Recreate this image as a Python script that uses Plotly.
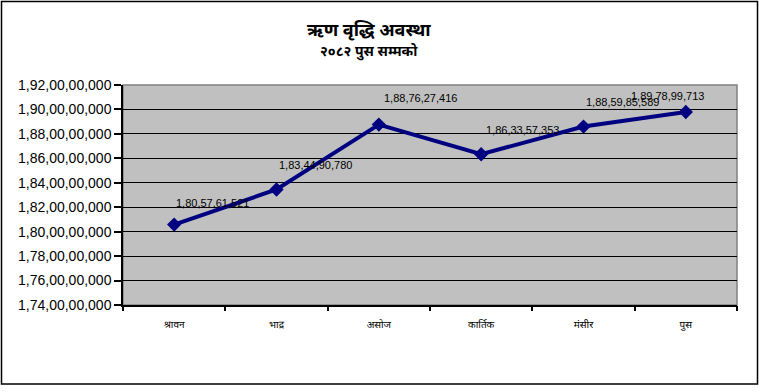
import plotly.graph_objects as go

months = ["श्रावन", "भाद्र", "असोज", "कार्तिक", "मंसीर", "पुस"]
loan_values = [1805761521, 1834490780, 1887627416, 1863357353, 1885985589, 1897899713]
tick_values = [1740000000 + i * 20000000 for i in range(10)]

title_text = "ऋण वृद्धि अवस्था"
subtitle_text = "२०८२ पुस सम्मको"

# label offsets (style only)
label_dx = [0, 0, 3, 3, 0, -57]
label_dy = [22, 25, 27, 24, 25, 16]


def indian_format(n):
    s = str(int(n))
    last3 = s[-3:]
    rest = s[:-3]
    parts = []
    while len(rest) > 2:
        parts.insert(0, rest[-2:])
        rest = rest[:-2]
    if rest:
        parts.insert(0, rest)
    return ",".join(parts + [last3])


tick_text = [indian_format(v) for v in tick_values]
value_text = [indian_format(v) for v in loan_values]

DEV = "Noto Sans Devanagari, Lohit Devanagari, Mangal, Noto Sans, sans-serif"
ARIAL = "Liberation Sans, Arial, sans-serif"

fig = go.Figure()
fig.add_trace(go.Scatter(
    x=list(range(len(months))),
    y=loan_values,
    mode="lines+markers",
    line=dict(color="#000080", width=4),
    marker=dict(symbol="diamond", size=11, color="#000080"),
    hoverinfo="skip",
    showlegend=False,
))

for i, (v, t) in enumerate(zip(loan_values, value_text)):
    fig.add_annotation(
        x=i, y=v, text=t, showarrow=False,
        xanchor="left", yanchor="middle",
        xshift=label_dx[i], yshift=label_dy[i],
        font=dict(family=ARIAL, size=11, color="#000000"),
    )

fig.add_annotation(
    x=0.4, xref="paper", y=(305 - 31) / 220, yref="paper",
    text="<b>" + title_text + "</b>", showarrow=False,
    xanchor="center", yanchor="middle",
    font=dict(family=DEV, size=18, color="#000000"),
)
fig.add_annotation(
    x=0.4, xref="paper", y=(305 - 53) / 220, yref="paper",
    text="<b>" + subtitle_text + "</b>", showarrow=False,
    xanchor="center", yanchor="middle",
    font=dict(family=DEV, size=14, color="#000000"),
)

# outer chart frame
fig.add_shape(
    type="rect", xref="paper", yref="paper",
    x0=(1.5 - 123) / 614, x1=(757.5 - 123) / 614,
    y0=(305 - 384) / 220, y1=(305 - 1.5) / 220,
    line=dict(color="#000000", width=1.5), layer="below",
)
# plot area border (gray top/right)
fig.add_shape(
    type="rect", xref="paper", yref="paper",
    x0=0, x1=1, y0=0, y1=1,
    line=dict(color="#808080", width=1.5), layer="below",
)

fig.update_xaxes(
    range=[-0.5, len(months) - 0.5],
    tickmode="array",
    tickvals=list(range(len(months))),
    ticktext=months,
    showgrid=False,
    showline=True, linecolor="#000000", linewidth=1.5,
    ticks="", tickfont=dict(family=DEV, size=10, color="#000000"),
    ticklabelstandoff=9,
    zeroline=False,
    fixedrange=True,
)
# category divider ticks on x axis
fig.update_layout(
    xaxis2=dict(
        overlaying="x", range=[-0.5, len(months) - 0.5],
        tickmode="array", tickvals=[i - 0.5 for i in range(len(months) + 1)],
        ticktext=[""] * (len(months) + 1),
        ticks="outside", ticklen=5, tickwidth=1.5, tickcolor="#000000",
        showgrid=False, showline=False, zeroline=False, anchor="y",
        side="bottom",
    )
)
fig.add_trace(go.Scatter(x=[None], y=[None], xaxis="x2", showlegend=False, hoverinfo="skip"))

fig.update_yaxes(
    range=[tick_values[0], tick_values[-1]],
    tickmode="array",
    tickvals=tick_values,
    ticktext=tick_text,
    showgrid=True, gridcolor="#000000", gridwidth=1,
    showline=True, linecolor="#000000", linewidth=1.5,
    ticks="outside", ticklen=7, tickwidth=1.5, tickcolor="#000000",
    tickfont=dict(family=ARIAL, size=14, color="#000000"),
    zeroline=False,
    fixedrange=True,
)

fig.update_layout(
    width=760, height=392,
    margin=dict(l=123, r=23, t=85, b=87),
    paper_bgcolor="#FFFFFF",
    plot_bgcolor="#C0C0C0",
    showlegend=False,
)

fig.write_html(
    "out.html",
    config={"displayModeBar": False},
    post_script="document.body.style.margin='0';document.body.style.padding='0';document.body.style.overflow='hidden';",
)
